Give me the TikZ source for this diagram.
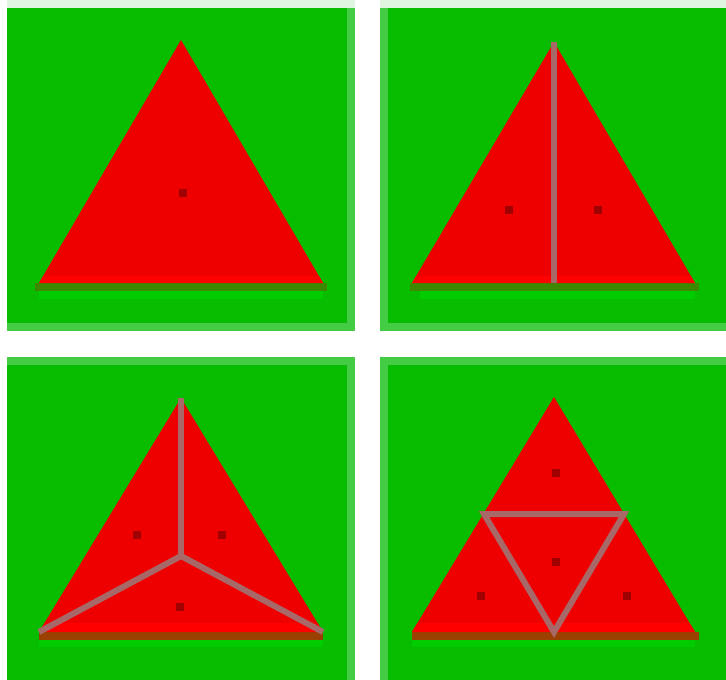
\documentclass[tikz,border=0pt]{standalone}
\definecolor{bg}{HTML}{08BC00}
\definecolor{edge}{HTML}{44CC44}
\definecolor{pale}{HTML}{DFF5DF}
\definecolor{tri}{HTML}{EE0000}
\definecolor{trilight}{HTML}{FF0000}
\definecolor{olive}{HTML}{3C8800}
\definecolor{brown}{HTML}{9A4000}
\definecolor{lgreen}{HTML}{00CC00}
\definecolor{seam}{HTML}{A86868}
\definecolor{dotc}{HTML}{A00000}
\tikzset{
  panel/.style={fill=bg},
  edgestrip/.style={fill=edge},
  tribody/.style={fill=tri},
  seamline/.style={draw=seam, line width=6pt, line cap=butt, line join=miter},
  dotmark/.style={fill=dotc}
}
\newcommand{\mydot}[2]{\fill[dotmark] (#1-4,#2-4) rectangle (#1+4,#2+4);}
\newcommand{\mytri}[5]{%
  \fill[tribody] (#1) -- (#2) -- (#3) -- cycle;
  \begin{scope}
    \clip (#1) -- (#2) -- (#3) -- cycle;
    \fill[trilight] (0,#4) rectangle (726,#5);
  \end{scope}}
\begin{document}
\begin{tikzpicture}[x=1pt,y=-1pt]
\useasboundingbox (0,0) rectangle (726,680);
\fill[white] (0,0) rectangle (726,680);
% panel 1
\fill[pale] (7,0) rectangle (355,8);
\fill[panel] (7,8) rectangle (347,323);
\fill[edgestrip] (347,8) rectangle (355,331);
\fill[edgestrip] (7,323) rectangle (355,331);
% panel 2
\fill[pale] (380,0) rectangle (726,8);
\fill[panel] (388,8) rectangle (726,323);
\fill[edgestrip] (380,8) rectangle (388,331);
\fill[edgestrip] (388,323) rectangle (726,331);
% panel 3
\fill[edgestrip] (7,357) rectangle (355,365);
\fill[panel] (7,365) rectangle (347,680);
\fill[edgestrip] (347,365) rectangle (355,680);
% panel 4
\fill[edgestrip] (380,357) rectangle (726,365);
\fill[panel] (388,365) rectangle (726,680);
\fill[edgestrip] (380,365) rectangle (388,680);

% triangle 1
\coordinate (a1) at (181,40); \coordinate (l1) at (39,283); \coordinate (r1) at (323,283);
\fill[olive] (35,283) rectangle (327,291);
\fill[lgreen] (39,291) rectangle (323,299);
\mytri{a1}{l1}{r1}{276}{283}
\mydot{183}{193}

% triangle 2
\coordinate (a2) at (554,42); \coordinate (l2) at (412,283); \coordinate (r2) at (695,283);
\coordinate (m2) at (554,283);
\fill[olive] (410,283) rectangle (699,291);
\fill[lgreen] (420,291) rectangle (695,299);
\mytri{a2}{l2}{r2}{276}{283}
\draw[seamline] (a2) -- (m2);
\mydot{509}{210}
\mydot{598}{210}

% triangle 3
\coordinate (a3) at (181,398); \coordinate (l3) at (39,632); \coordinate (r3) at (323,632);
\coordinate (c3) at (181,556);
\fill[brown] (39,632) rectangle (323,640);
\fill[lgreen] (39,640) rectangle (323,647);
\mytri{a3}{l3}{r3}{623}{632}
\draw[seamline] (a3) -- (c3);
\draw[seamline] (c3) -- (l3);
\draw[seamline] (c3) -- (r3);
\mydot{137}{535}
\mydot{222}{535}
\mydot{180}{607}

% triangle 4
\coordinate (a4) at (554,397); \coordinate (l4) at (412,632); \coordinate (r4) at (695,632);
\coordinate (ml4) at (484,514); \coordinate (mr4) at (624,514); \coordinate (mb4) at (554,632);
\fill[brown] (412,632) rectangle (699,640);
\fill[lgreen] (412,640) rectangle (695,647);
\mytri{a4}{l4}{r4}{623}{632}
\draw[seamline] (ml4) -- (mr4) -- (mb4) -- cycle;
\mydot{556}{473}
\mydot{556}{562}
\mydot{481}{596}
\mydot{627}{596}
\end{tikzpicture}
\end{document}
